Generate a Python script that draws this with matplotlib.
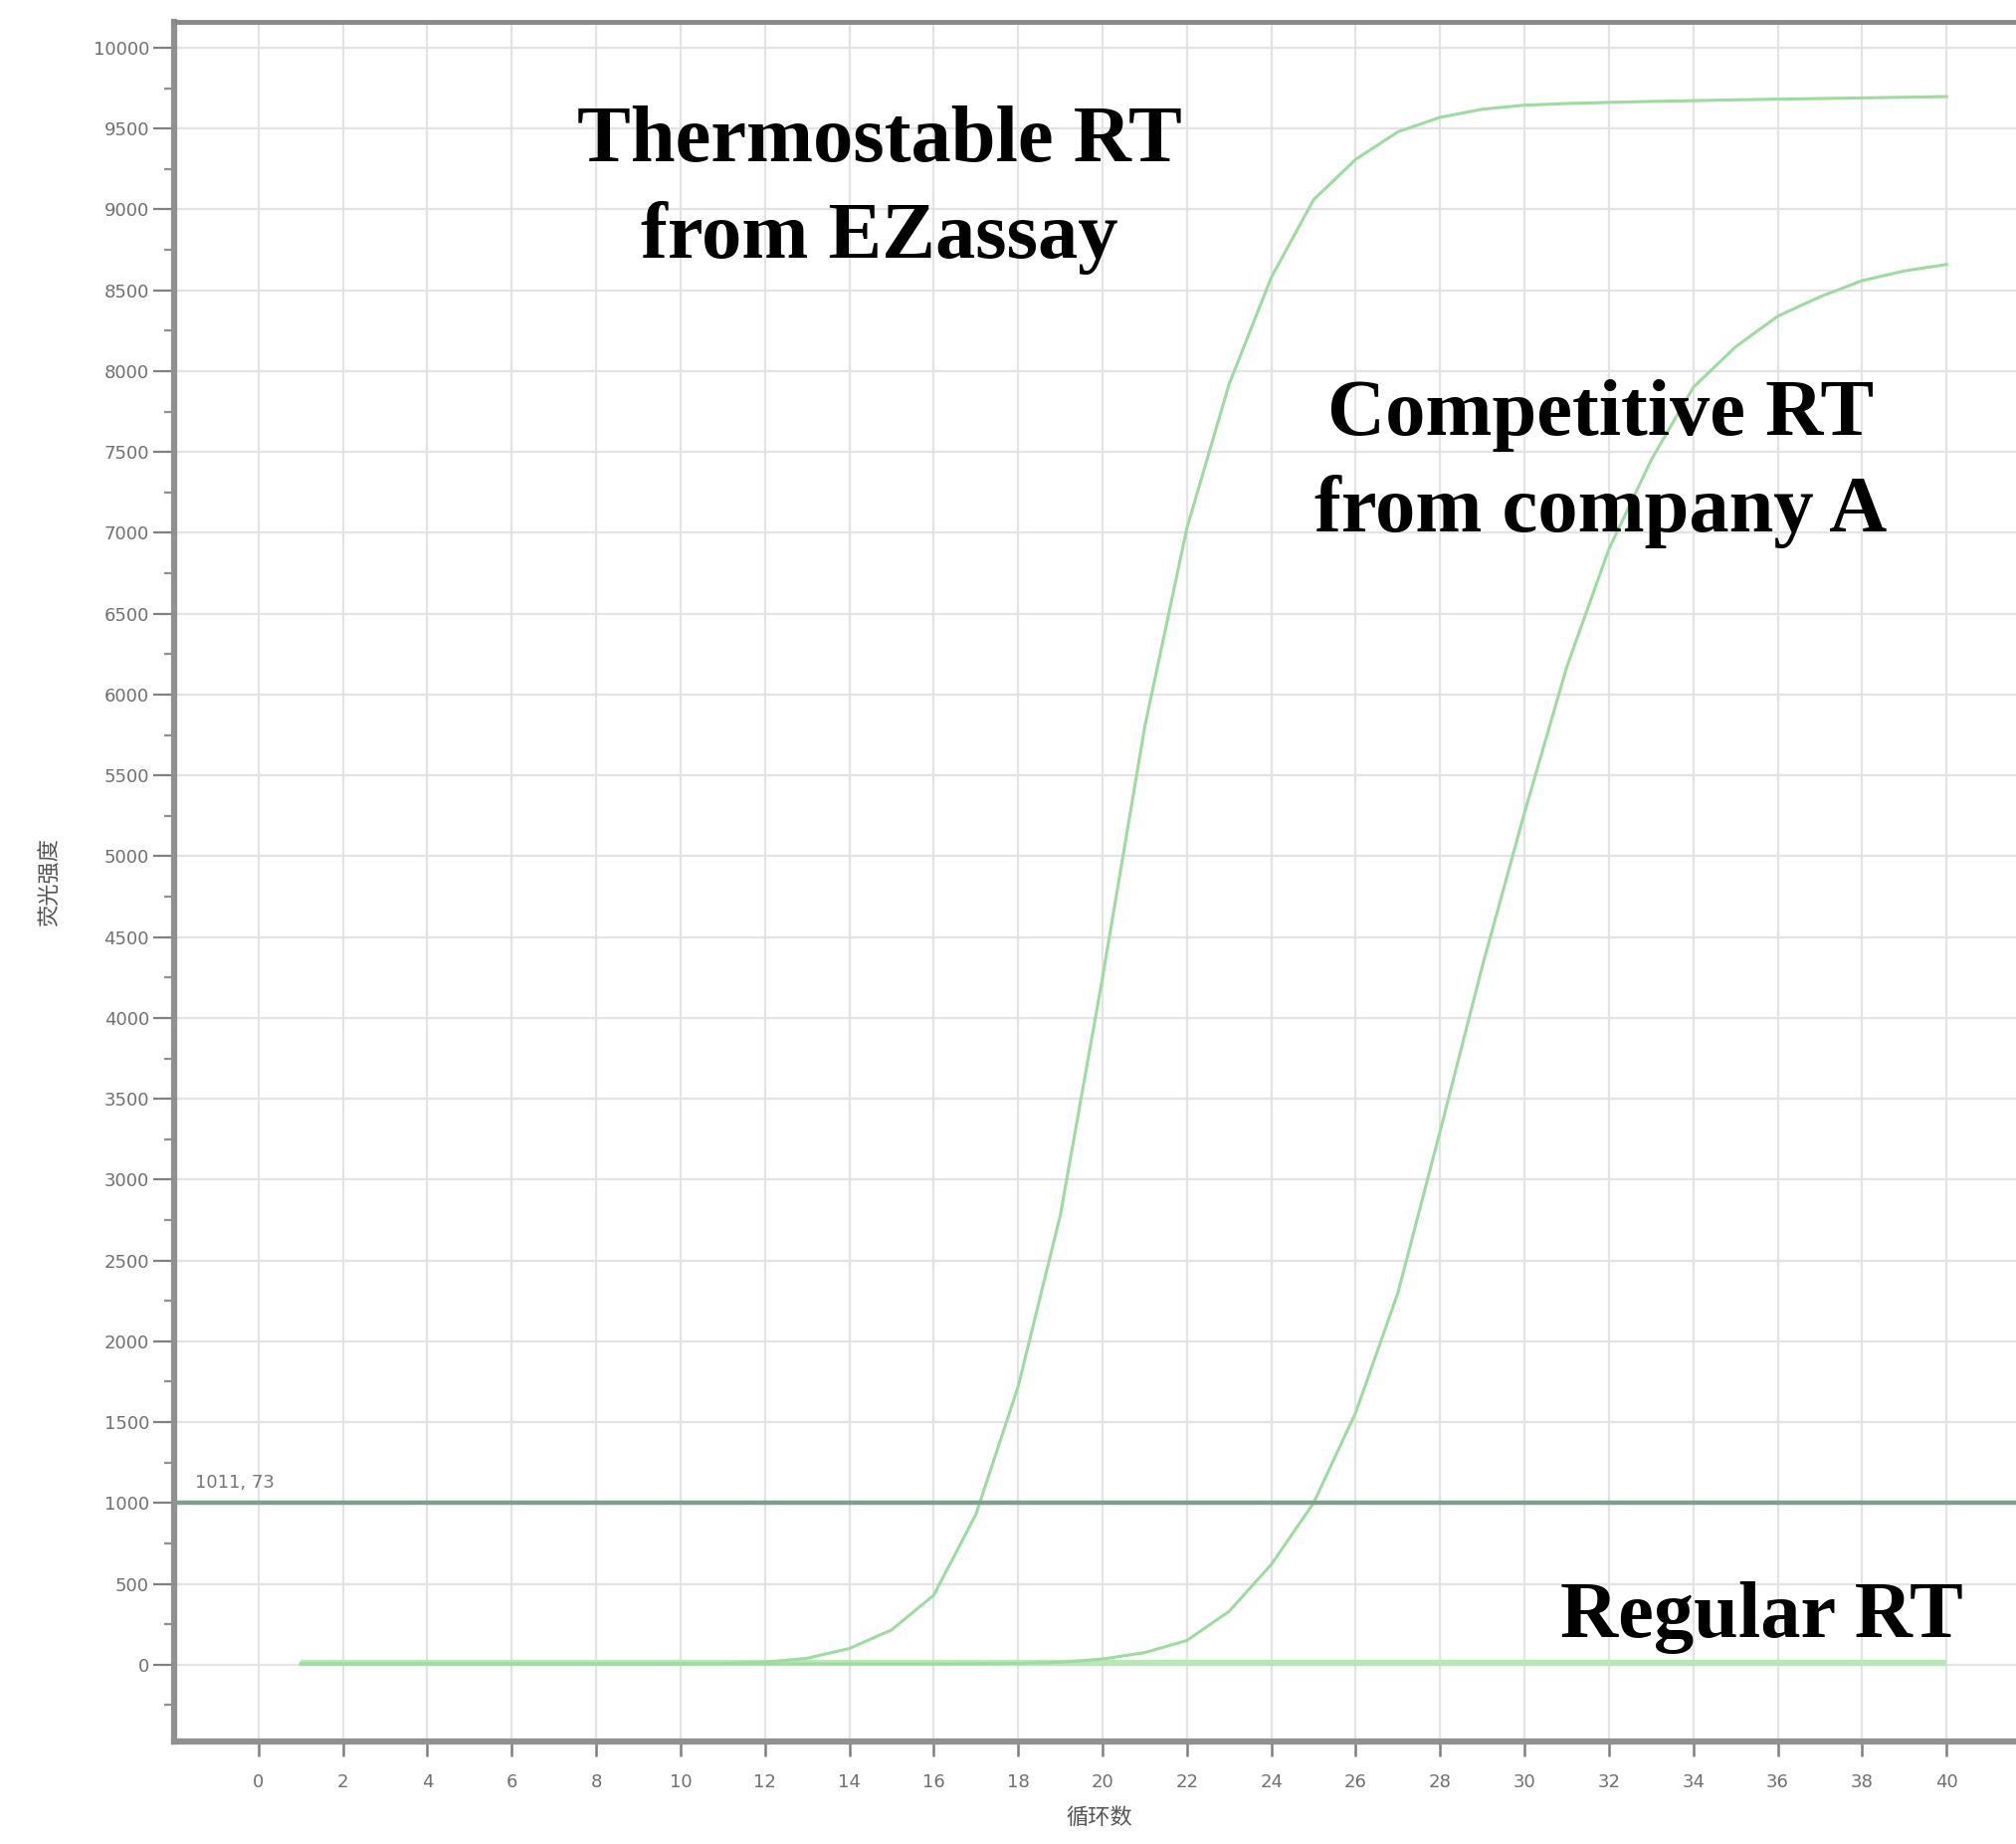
import matplotlib
matplotlib.use('Agg')
import matplotlib.pyplot as plt
from matplotlib.ticker import MultipleLocator

# ---------------- data ----------------
cycles = list(range(1, 41))
thermostable = [5, 5, 5, 5, 5, 5, 5, 5, 5, 6,
                8, 15, 40, 100, 215, 430, 930, 1720, 2780, 4250,
                5800, 7030, 7920, 8580, 9060, 9310, 9480, 9570, 9620, 9645,
                9655, 9662, 9668, 9673, 9678, 9682, 9686, 9690, 9694, 9698]
competitive = [5, 5, 5, 5, 5, 5, 5, 5, 5, 5,
               5, 5, 5, 5, 5, 5, 6, 8, 15, 35,
               75, 150, 330, 620, 1000, 1560, 2300, 3300, 4320, 5270,
               6170, 6900, 7450, 7900, 8150, 8340, 8460, 8560, 8620, 8660]
regular = [12, 12, 12, 12, 12, 12, 12, 12, 12, 12,
           12, 12, 12, 12, 12, 12, 12, 12, 12, 12,
           12, 12, 12, 12, 12, 12, 12, 12, 12, 12,
           12, 12, 12, 12, 12, 12, 12, 12, 12, 12]
threshold_value = 1000
threshold_label = "1011, 73"
x_ticks = list(range(0, 44, 2))
y_ticks = list(range(0, 10001, 500))
x_label = "循环数"
y_label = "荧光强度"
curve_labels = ["Thermostable RT\nfrom EZassay", "Competitive RT\nfrom company A", "Regular RT"]

# ---------------- figure ----------------
W, H = 2026, 1853
fig = plt.figure(figsize=(W / 100, H / 100), dpi=100)
fig.patch.set_facecolor('white')
ax = fig.add_axes([175 / W, 1 - 1750 / H, (2041 - 175) / W, (1750 - 22) / H])
ax.set_xlim(-2, 42)
ax.set_ylim(-475, 10160)

# grid
ax.set_xticks(x_ticks)
ax.set_yticks(y_ticks)
ax.yaxis.set_minor_locator(MultipleLocator(250))
ax.grid(True, which='major', color='#e3e3e3', linewidth=1.6)
ax.set_axisbelow(True)

# curves
ax.plot(cycles, regular, color='#b6e9b6', linewidth=4.5, solid_capstyle='butt', zorder=3)
ax.plot(cycles, competitive, color='#9cdc9e', linewidth=2.2, zorder=4)
ax.plot(cycles, thermostable, color='#9cdc9e', linewidth=2.2, zorder=4)

# threshold
ax.axhline(threshold_value, color='#809f8b', linewidth=3.2, zorder=5)
ax.text(-1.5, threshold_value + 70, threshold_label, fontsize=13, color='#777777',
        ha='left', va='bottom', family='DejaVu Sans', zorder=6)

# spines
for side in ['left', 'bottom']:
    ax.spines[side].set_color('#909090')
    ax.spines[side].set_linewidth(4.5)
ax.spines['top'].set_color('#8a8a8a')
ax.spines['top'].set_linewidth(3.5)
ax.spines['right'].set_visible(False)

# ticks
ax.tick_params(axis='y', which='major', length=15, width=1.6, color='#808080',
               labelsize=13, labelcolor='#707070', pad=3)
ax.tick_params(axis='y', which='minor', length=7, width=1.6, color='#909090')
ax.tick_params(axis='x', which='major', length=11, width=1.8, color='#808080',
               labelsize=13, labelcolor='#707070', pad=12)
ax.set_xticklabels([str(v) for v in x_ticks])
ax.set_yticklabels([str(v) for v in y_ticks])

# axis labels
fig.text(1105 / W, 1 - 1826 / H, x_label, fontsize=16, color='#555555',
         ha='center', va='center', family=['Noto Sans CJK SC', 'DejaVu Sans'])
fig.text(50 / W, 1 - 887 / H, y_label, fontsize=16, color='#555555', rotation=90,
         ha='center', va='center', family=['Noto Sans CJK SC', 'DejaVu Sans'])

# curve annotations
serif = ['Liberation Serif', 'DejaVu Serif']
fig.text(884 / W, 1 - 191 / H, curve_labels[0], fontsize=58, fontweight='bold',
         family=serif, ha='center', va='center', linespacing=1.4, color='black')
fig.text(1609 / W, 1 - 466 / H, curve_labels[1], fontsize=58, fontweight='bold',
         family=serif, ha='center', va='center', linespacing=1.4, color='black')
fig.text(1770 / W, 1 - 1626 / H, curve_labels[2], fontsize=58, fontweight='bold',
         family=serif, ha='center', va='center', color='black')

fig.savefig('out.png', dpi=100, facecolor='white')
